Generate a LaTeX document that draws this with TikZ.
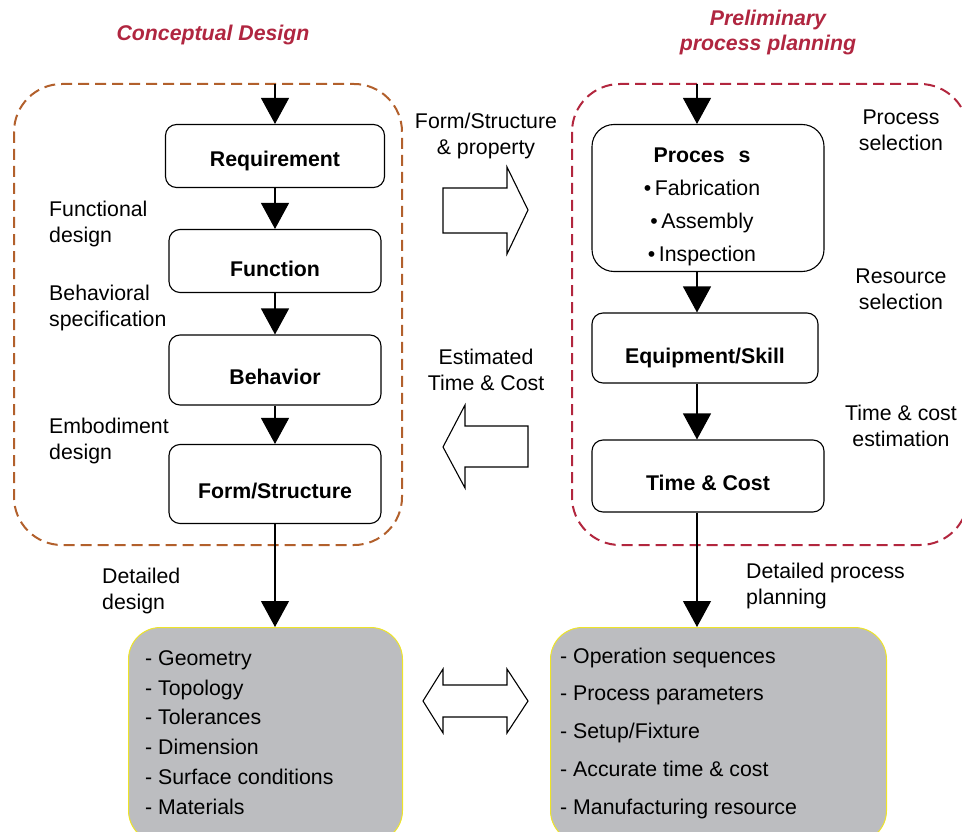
\documentclass[tikz,border=0pt]{standalone}
\usepackage{fontspec}
\setmainfont{Liberation Sans}
\usetikzlibrary{arrows.meta}
\usetikzlibrary{positioning}

\definecolor{titlered}{RGB}{176,38,64}
\definecolor{cdbrown}{RGB}{178,96,44}
\definecolor{ppred}{RGB}{178,38,62}
\definecolor{listgrey}{RGB}{188,189,192}
\definecolor{listedge}{RGB}{238,228,40}

\tikzset{
 stepbox/.style={draw, line width=1.1pt, fill=white, rounded corners=11pt,
   font=\fontsize{21.3}{26}\selectfont\bfseries, align=center},
 listbox/.style={draw=listedge, line width=1pt, fill=listgrey, rounded corners=32pt,
   anchor=north west, inner sep=0pt},
 sidelabel/.style={font=\fontsize{21.3}{26}\selectfont, align=left, anchor=north west, inner sep=0pt},
 listitem/.style={font=\fontsize{21.3}{26}\selectfont, anchor=base west, inner sep=0pt},
 rightlabel/.style={font=\fontsize{21.3}{26}\selectfont, align=center, inner sep=0pt},
 phase/.style={font=\fontsize{21.3}{25}\selectfont\bfseries\itshape, text=titlered, align=center},
 zone/.style={line width=2pt, dash pattern=on 11pt off 6pt, rounded corners=48pt},
 flow/.style={line width=1.1pt, -{Triangle[width=28pt,length=26pt]}},
 block/.style={draw, line width=1.1pt, fill=white, line join=miter}
}

\begin{document}
\begin{tikzpicture}[x=1pt,y=-1pt]
\useasboundingbox (0,0) rectangle (962,832);

% phase titles
\node[phase] (cdtitle) at (213,35) {Conceptual Design};
\node[phase] (pptitle) at (768,32) {Preliminary\\process planning};

% dashed zones
\draw[zone, cdbrown] (14,84) rectangle (402,545);
\draw[zone, ppred] (572,84) rectangle (968,545);

% conceptual design chain
\coordinate (ltop) at (275,84);
\node[stepbox, minimum width=219pt, minimum height=63pt] (req) at (275,156) {\raisebox{-11pt}[0pt][0pt]{Requirement}};
\node[stepbox, minimum width=212pt, minimum height=63pt] (fun) at (275,261) {\\[6pt]Function};
\node[stepbox, minimum width=212pt, minimum height=70pt] (beh) at (275,370) {\\[4pt]Behavior};
\node[stepbox, minimum width=212pt, minimum height=79pt] (frm) at (275,484) {\\[4pt]Form/Structure};

\draw[flow] (ltop) -- (req);
\draw[flow] (req) -- (fun);
\draw[flow] (fun) -- (beh);
\draw[flow] (beh) -- (frm);

\node[sidelabel] (fdes) at (49,201) {Functional\\design};
\node[sidelabel] (bspec) at (49,285) {Behavioral\\specification};
\node[sidelabel] (edes) at (49,418) {Embodiment\\design};
\node[sidelabel] (ddes) at (102,568) {Detailed\\design};

% process planning chain
\coordinate (rtop) at (697,84);
\node[stepbox, minimum width=232pt, minimum height=147pt, rounded corners=22pt] (proc) at (708,198) {};
\node[font=\fontsize{21.3}{33}\selectfont, align=center] (proclist) at (702,207)
  {\textbf{Proces\hspace{14pt}s}\\\textbullet\,Fabrication\\\textbullet\,Assembly\\\textbullet\,Inspection};
\node[stepbox, minimum width=226pt, minimum height=70pt] (equ) at (705,348) {\\[10pt]Equipment/Skill};
\node[stepbox, minimum width=232pt, minimum height=72pt] (tac) at (708,476) {\\[4pt]Time \& Cost};

\draw[flow] (rtop) -- (rtop |- proc.north);
\draw[flow] (proc.south -| rtop) -- (rtop |- equ.north);
\draw[flow] (equ.south -| rtop) -- (rtop |- tac.north);

\node[rightlabel] (psel) at (901,130) {Process\\selection};
\node[rightlabel] (rsel) at (901,289) {Resource\\selection};
\node[rightlabel] (tce) at (901,426) {Time \& cost\\estimation};
\node[sidelabel] (dpp) at (746,563) {Detailed process\\planning};

% exchange between the two
\node[rightlabel] (fsp) at (486,136) {Form/Structure\\\& property};
\node[rightlabel] (etc) at (486,370) {Estimated\\Time \& Cost};
\draw[block] (443,188) -- (507,188) -- (507,167) -- (528,210) -- (507,254) -- (507,233) -- (443,233) -- cycle;
\draw[block] (443,447) -- (465,405) -- (465,426) -- (528,426) -- (528,467) -- (465,467) -- (465,488) -- cycle;

% detailed results
\node[listbox, minimum width=274pt, minimum height=215pt] (geo) at (128,627) {};
\node[listbox, minimum width=336pt, minimum height=215pt] (ops) at (550,627) {};
\foreach \t [count=\i] in {Geometry,Topology,Tolerances,Dimension,Surface conditions,Materials}
  \node[listitem] (g\i) at (145,635.5+29.8*\i) {- \t};
\foreach \t [count=\i] in {Operation sequences,Process parameters,Setup/Fixture,Accurate time \& cost,Manufacturing resource}
  \node[listitem] (o\i) at (560,625.5+37.7*\i) {- \t};

\draw[flow] (frm) -- (frm |- geo.north);
\draw[flow] (tac.south -| rtop) -- (rtop |- ops.north);

\draw[block] (423,701) -- (443,669) -- (443,685) -- (507,685) -- (507,669) -- (528,701) -- (507,733) -- (507,717) -- (443,717) -- (443,733) -- cycle;
\end{tikzpicture}
\end{document}
